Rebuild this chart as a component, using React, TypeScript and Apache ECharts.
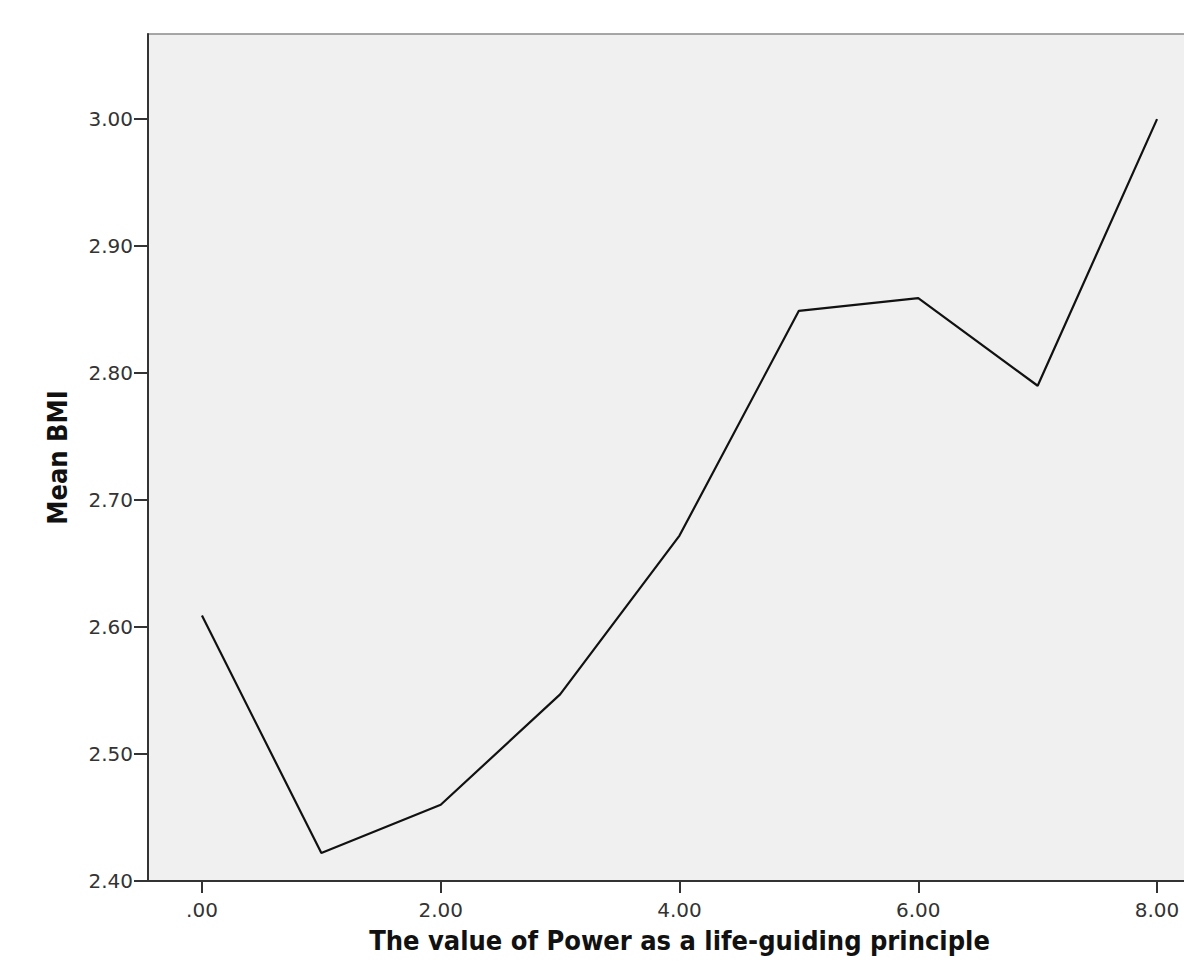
import React, { useEffect, useRef } from "react";
import * as echarts from "echarts";

const powerValues = [0, 1, 2, 3, 4, 5, 6, 7, 8];
const meanBMI = [2.609, 2.422, 2.46, 2.547, 2.672, 2.849, 2.859, 2.79, 3.0];
const xTicks = [0, 2, 4, 6, 8];
const xTickLabels = [".00", "2.00", "4.00", "6.00", "8.00"];
const yTicks = [2.4, 2.5, 2.6, 2.7, 2.8, 2.9, 3.0];
const yTickLabels = ["2.40", "2.50", "2.60", "2.70", "2.80", "2.90", "3.00"];
const xTitle = "The value of Power as a life-guiding principle";
const yTitle = "Mean BMI";

export default function App() {
  const ref = useRef<HTMLDivElement>(null);
  useEffect(() => {
    if (!ref.current) return;
    const chart = echarts.init(ref.current, null, { renderer: "svg" });
    const labelFor = (ticks: number[], labels: string[]) => (v: number) => {
      const i = ticks.findIndex((t) => Math.abs(t - v) < 1e-6);
      return i >= 0 ? labels[i] : "";
    };
    chart.setOption({
      animation: false,
      backgroundColor: "#ffffff",
      grid: {
        left: 148,
        top: 34,
        right: 0,
        bottom: 86,
        show: true,
        backgroundColor: "#f0f0f0",
        borderColor: "#8a8a8a",
        borderWidth: 1.5,
      },
      xAxis: {
        type: "value",
        min: -0.452,
        max: 8.452,
        splitLine: { show: false },
        axisLine: { show: true, onZero: false, lineStyle: { color: "#333", width: 2 } },
        axisTick: {
          show: true,
          customValues: xTicks,
          length: 12,
          lineStyle: { color: "#333", width: 2 },
        },
        axisLabel: {
          customValues: xTicks,
          formatter: labelFor(xTicks, xTickLabels),
          margin: 19,
          color: "#333",
          fontSize: 20,
          fontFamily: "DejaVu Sans",
        },
        name: xTitle,
        nameLocation: "middle",
        nameGap: 46,
        nameTextStyle: {
          fontFamily: "DejaVu Sans Condensed",
          fontWeight: "bold",
          fontSize: 27,
          color: "#111",
        },
      },
      yAxis: {
        type: "value",
        min: 2.4,
        max: 3.067,
        splitLine: { show: false },
        axisLine: { show: true, onZero: false, lineStyle: { color: "#333", width: 2 } },
        axisTick: {
          show: true,
          customValues: yTicks,
          length: 14,
          lineStyle: { color: "#333", width: 2 },
        },
        axisLabel: {
          customValues: yTicks,
          formatter: labelFor(yTicks, yTickLabels),
          margin: 15,
          color: "#333",
          fontSize: 20,
          fontFamily: "DejaVu Sans",
        },
        name: yTitle,
        nameLocation: "middle",
        nameGap: 77,
        nameTextStyle: {
          fontFamily: "DejaVu Sans Condensed",
          fontWeight: "bold",
          fontSize: 27,
          color: "#111",
        },
      },
      series: [
        {
          type: "line",
          data: powerValues.map((x, i) => [x, meanBMI[i]]),
          showSymbol: false,
          lineStyle: { color: "#111", width: 2.2 },
          clip: true,
        },
      ],
    });
    return () => chart.dispose();
  }, []);
  return (
    <div
      ref={ref}
      style={{ position: "fixed", left: 0, top: 0, width: 1211, height: 967 }}
    />
  );
}
